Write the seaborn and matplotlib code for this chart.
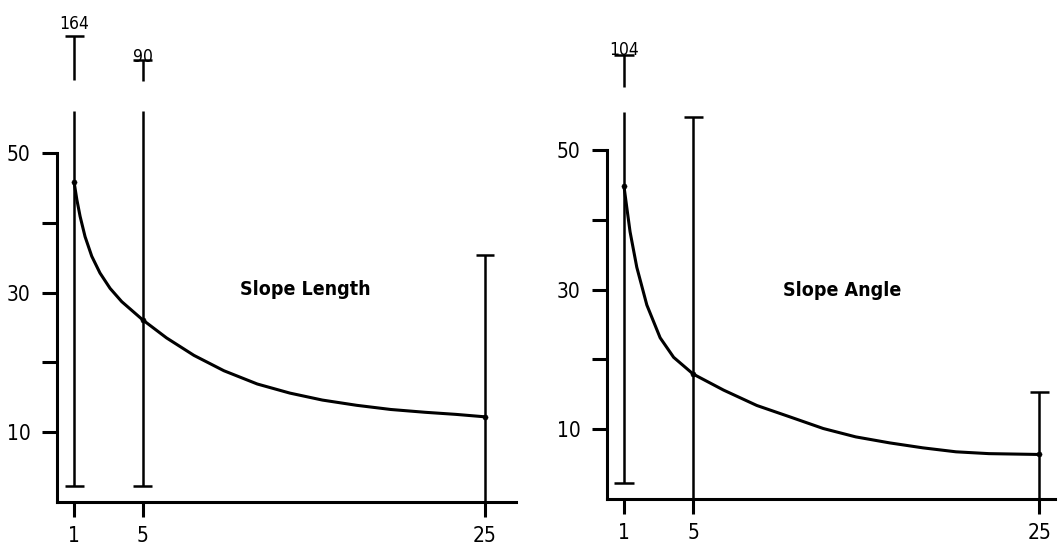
import matplotlib
matplotlib.use("Agg")
import matplotlib.pyplot as plt
import seaborn as sns
import pandas as pd

# ---------------- data ----------------
x_ticks = [1, 5, 25]
y_major = [10, 30, 50]
y_minor = [20, 40]
panel_titles = ["Slope Length", "Slope Angle"]

bar_x = [1, 5, 25]

length_curve_x = [1.0, 1.16, 1.35, 1.64, 2.03, 2.51, 3.1, 3.78, 5.0, 6.4,
                  8.0, 9.75, 11.7, 13.6, 15.5, 17.5, 19.5, 21.5, 23.3, 25.0]
length_curve_y = [45.8, 43.3, 40.9, 38.0, 35.2, 32.8, 30.6, 28.7, 26.1, 23.5,
                  21.0, 18.8, 16.9, 15.6, 14.6, 13.85, 13.25, 12.85, 12.55, 12.2]
length_mean = [45.8, 26.1, 12.2]
length_low = [2.3, 2.3, 0.0]
length_high = [164, 90, 35.4]

angle_curve_x = [1.0, 1.16, 1.35, 1.74, 2.32, 3.09, 3.87, 5.0, 6.76,
                 8.68, 10.6, 12.52, 14.4, 16.36, 18.28, 20.2, 22.1, 25.0]
angle_curve_y = [44.8, 41.8, 38.3, 33.2, 27.8, 23.1, 20.3, 17.9, 15.6,
                 13.4, 11.76, 10.1, 8.9, 8.04, 7.33, 6.76, 6.5, 6.38]
angle_mean = [44.8, 17.9, 6.38]
angle_low = [2.3, 0.0, 0.0]
angle_high = [104, 54.7, 15.4]

# ---------------- style / layout ----------------
sns.set_style("ticks")
plt.rcParams["font.family"] = ["DejaVu Sans"]
plt.rcParams["font.stretch"] = "condensed"
INK = "black"
LW_AXIS = 2.2
LW_BAR = 1.8
LW_CURVE = 2.2
CAP = 0.55

panels = [
    dict(rect=[57 / 1058, 44 / 546, 458.8 / 1058, 502 / 546], xlim=(0, 26.8), ylim=(0, 71.9),
         cx=length_curve_x, cy=length_curve_y, mean=length_mean, low=length_low,
         high=length_high, title_xy=(14.5, 30.5), break_at=56.0,
         stubs={164: (60.4, 66.7, 0.5), 90: (60.3, 63.3, -0.9)}),
    dict(rect=[606.7 / 1058, 47 / 546, 448 / 1058, 499 / 546], xlim=(0, 25.9), ylim=(0, 71.5),
         cx=angle_curve_x, cy=angle_curve_y, mean=angle_mean, low=angle_low,
         high=angle_high, title_xy=(13.6, 29.9), break_at=55.4,
         stubs={104: (59.1, 63.6, -0.6)}),
]

fig = plt.figure(figsize=(10.58, 5.46), dpi=100)

for p, title in zip(panels, panel_titles):
    ax = fig.add_axes(p["rect"])
    ax.set_facecolor("white")

    curve = pd.DataFrame({"x": p["cx"], "y": p["cy"]})
    sns.lineplot(data=curve, x="x", y="y", ax=ax, color=INK, lw=LW_CURVE,
                 sort=False, estimator=None)
    means = pd.DataFrame({"x": bar_x, "y": p["mean"]})
    sns.scatterplot(data=means, x="x", y="y", ax=ax, color=INK, s=14,
                    edgecolor=INK, zorder=4)

    for xv, lo, hi in zip(bar_x, p["low"], p["high"]):
        if hi in p["stubs"]:
            top = p["break_at"]
            s_lo, s_hi, off = p["stubs"][hi]
            ax.vlines(xv, s_lo, s_hi, color=INK, lw=LW_BAR)
            ax.hlines(s_hi, xv - CAP, xv + CAP, color=INK, lw=LW_BAR)
            ax.text(xv, s_hi + off, f"{hi:g}", ha="center", va="bottom",
                    fontsize=12.5, color=INK)
        else:
            top = hi
            ax.hlines(hi, xv - CAP, xv + CAP, color=INK, lw=LW_BAR)
        ax.vlines(xv, lo, top, color=INK, lw=LW_BAR)
        if lo > 0:
            ax.hlines(lo, xv - CAP, xv + CAP, color=INK, lw=LW_BAR)

    ax.text(p["title_xy"][0], p["title_xy"][1], title, ha="center", va="center",
            fontsize=14, fontweight="bold", color=INK)

    ax.set_xlim(*p["xlim"])
    ax.set_ylim(*p["ylim"])
    ax.set_xticks(x_ticks)
    ax.set_xticklabels([str(v) for v in x_ticks])
    ax.set_yticks(y_major)
    ax.set_yticklabels([str(v) for v in y_major])
    ax.set_yticks(y_minor, minor=True)
    ax.set_xlabel("")
    ax.set_ylabel("")

    sns.despine(ax=ax)
    ax.spines["left"].set_bounds(0, 50)
    ax.spines["bottom"].set_bounds(0, p["xlim"][1])
    for s in ("left", "bottom"):
        ax.spines[s].set_linewidth(LW_AXIS)
        ax.spines[s].set_color(INK)
    ax.tick_params(axis="both", which="both", length=11, width=LW_AXIS,
                   direction="out", colors=INK, labelsize=15)
    ax.tick_params(axis="y", pad=8)
    ax.tick_params(axis="x", pad=6)

fig.savefig("out.png", dpi=100)
